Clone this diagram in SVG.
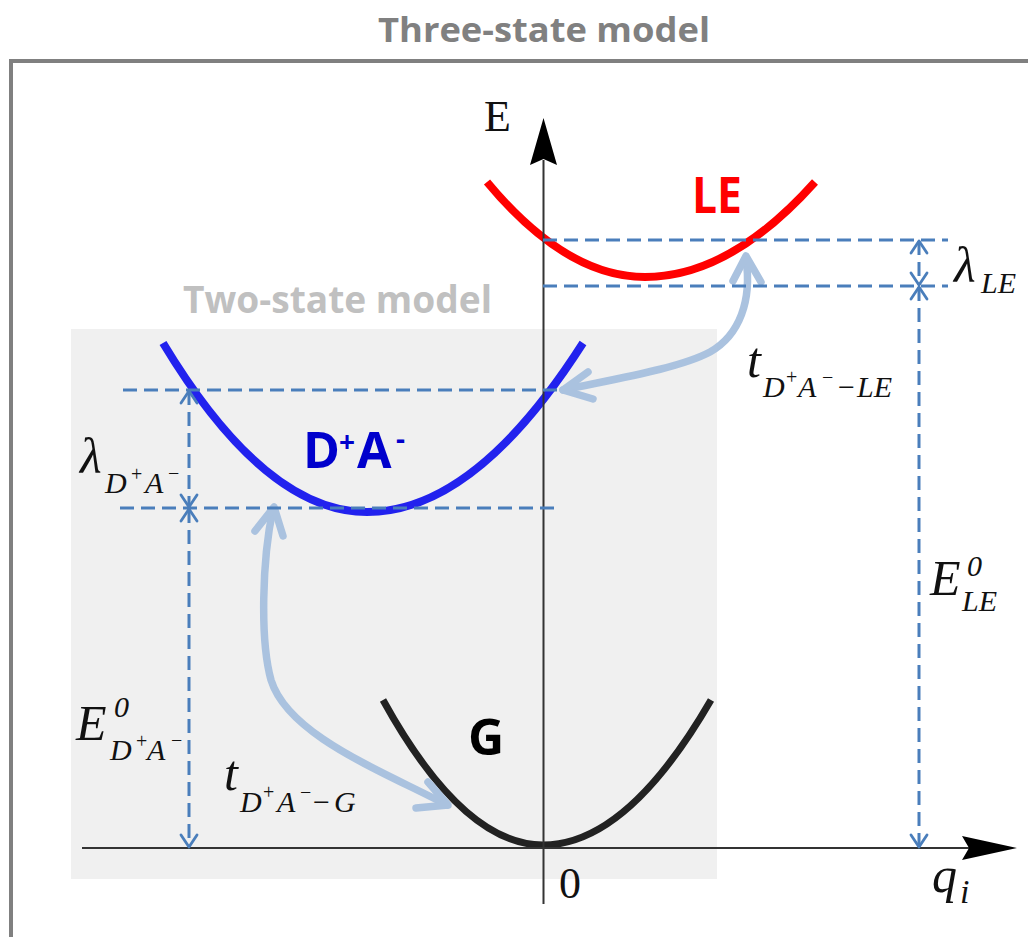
<svg xmlns="http://www.w3.org/2000/svg" width="1028" height="937" viewBox="0 0 1028 937">
  <style>
    .hdr { font-family: "Open Sans", "Liberation Sans", sans-serif; font-weight: 700; }
    .mi { font-family: "Liberation Serif", "DejaVu Serif", serif; font-style: italic; fill: #111; }
    .mr { font-family: "Liberation Serif", "DejaVu Serif", serif; fill: #111; }
    .curve { fill: none; stroke-linecap: butt; }
    .dash { fill: none; stroke: #4a7ebb; stroke-width: 3; stroke-dasharray: 14 7; }
    .lb { fill: none; stroke: #aac2df; stroke-width: 7.5; stroke-linecap: round; stroke-linejoin: round; }
    .axis { fill: none; stroke: #333; stroke-width: 2; }
  </style>
  <defs>
    <marker id="vh" viewBox="-14 -10 16 20" refX="0" refY="0" markerWidth="16" markerHeight="20" markerUnits="userSpaceOnUse" orient="auto-start-reverse">
      <path d="M-12,-8 L0,0 L-12,8" fill="none" stroke="#4a7ebb" stroke-width="2.8" stroke-dasharray="none" stroke-linecap="round" stroke-linejoin="round"/>
    </marker>
  </defs>

  <rect width="1028" height="937" fill="#ffffff"/>

  <g id="frame">
    <path d="M11,945 L11,61 L1035,61" fill="none" stroke="#808080" stroke-width="4"/>
    <text class="hdr" x="544" y="42" font-size="34" fill="#808080" text-anchor="middle" textLength="332" lengthAdjust="spacingAndGlyphs">Three-state model</text>
  </g>

  <g id="two-state-region">
    <rect x="71" y="329" width="646" height="550" fill="#f0f0f0"/>
    <text class="hdr" x="183" y="313" font-size="37" fill="#c0c0c0" textLength="309" lengthAdjust="spacingAndGlyphs">Two-state model</text>
  </g>

  <g id="node-LE">
    <path class="curve" d="M487,182 Q566,277 645,277 Q730,277 815,182" stroke="#ff0000" stroke-width="8"/>
    <text class="hdr" x="692" y="213" font-size="50" fill="#ff0000" textLength="50" lengthAdjust="spacingAndGlyphs">LE</text>
  </g>

  <g id="node-DA">
    <path class="curve" d="M163,343 Q265,512 367,512 Q475,512 583,343" stroke="#2222ee" stroke-width="8"/>
    <text class="hdr" font-size="50" fill="#0000cc"><tspan x="303" y="468">D</tspan><tspan x="339" y="452" font-size="28">+</tspan><tspan x="357" y="468">A</tspan><tspan x="396" y="449" font-size="28">-</tspan></text>
  </g>

  <g id="node-G">
    <path class="curve" d="M383,700 Q463,845 543,845 Q627,845 711,700" stroke="#222222" stroke-width="7"/>
    <text class="hdr" x="468" y="755" font-size="50" fill="#000000">G</text>
  </g>

  <g id="axes">
    <line class="axis" x1="543.5" y1="160" x2="543.5" y2="904"/>
    <path d="M543.5,118 L557,165 L543.5,159 L530,165 Z" fill="#000"/>
    <line class="axis" x1="82" y1="848" x2="970" y2="848"/>
    <path d="M1017,848 L962,836 L969,848 L962,860 Z" fill="#000"/>
    <text class="mr" x="484" y="131" font-size="44">E</text>
    <text class="mr" x="559" y="898" font-size="44">0</text>
    <text class="mi" x="932" y="892" font-size="50">q</text>
    <text class="mi" x="960" y="903" font-size="34">i</text>
  </g>

  <g id="connectors">
    <path class="lb" d="M563,390 C620,378 680,368 710,352 C740,335 752,300 746,259"/>
    <polyline class="lb" points="588,372 563,390 593,399"/>
    <polyline class="lb" points="733,281 746,256 761,282"/>
    <path class="lb" d="M273,509 C262,560 260,640 271,680 C288,735 380,770 447,805"/>
    <polyline class="lb" points="255,531 274,507 283,536"/>
    <polyline class="lb" points="416,808 448,805 428,782"/>

    <line class="dash" x1="543" y1="240" x2="948" y2="240"/>
    <line class="dash" x1="543" y1="286" x2="948" y2="286"/>
    <line class="dash" x1="123" y1="390" x2="561" y2="390"/>
    <line class="dash" x1="120" y1="508" x2="557" y2="508"/>
    <line class="dash" x1="189" y1="391" x2="189" y2="507" marker-start="url(#vh)" marker-end="url(#vh)"/>
    <line class="dash" x1="189" y1="509" x2="189" y2="847" marker-start="url(#vh)" marker-end="url(#vh)"/>
    <line class="dash" x1="919" y1="241" x2="919" y2="285" marker-start="url(#vh)" marker-end="url(#vh)"/>
    <line class="dash" x1="919" y1="287" x2="919" y2="847" marker-start="url(#vh)" marker-end="url(#vh)"/>
  </g>

  <g id="labels">
    <text class="mi" font-size="50"><tspan x="954" y="282">λ</tspan><tspan x="981" y="293" font-size="30">LE</tspan></text>
    <text class="mi" font-size="50"><tspan x="930" y="595">E</tspan><tspan x="967" y="576" font-size="30">0</tspan><tspan x="962" y="611" font-size="30">LE</tspan></text>
    <text class="mi" font-size="50"><tspan x="80" y="473">λ</tspan><tspan x="105" y="493" font-size="30">D</tspan><tspan x="131" y="481" font-size="20" font-style="normal">+</tspan><tspan x="145" y="493" font-size="30">A</tspan><tspan x="168" y="480" font-size="20" font-style="normal">−</tspan></text>
    <text class="mi" font-size="50"><tspan x="76" y="740">E</tspan><tspan x="114" y="717" font-size="30">0</tspan><tspan x="110" y="760" font-size="30">D</tspan><tspan x="136" y="748" font-size="20" font-style="normal">+</tspan><tspan x="147" y="760" font-size="30">A</tspan><tspan x="171" y="747" font-size="20" font-style="normal">−</tspan></text>
    <text class="mi" font-size="50"><tspan x="747" y="377">t</tspan><tspan x="763" y="397" font-size="30">D</tspan><tspan x="786" y="384" font-size="20" font-style="normal">+</tspan><tspan x="798" y="397" font-size="30">A</tspan><tspan x="822" y="384" font-size="20" font-style="normal">−</tspan><tspan x="838" y="397" font-size="30" font-style="normal">−</tspan><tspan x="857" y="397" font-size="30">LE</tspan></text>
    <text class="mi" font-size="50"><tspan x="224" y="790">t</tspan><tspan x="240" y="812" font-size="30">D</tspan><tspan x="263" y="799" font-size="20" font-style="normal">+</tspan><tspan x="277" y="812" font-size="30">A</tspan><tspan x="300" y="799" font-size="20" font-style="normal">−</tspan><tspan x="313" y="812" font-size="30" font-style="normal">−</tspan><tspan x="334" y="812" font-size="30">G</tspan></text>
  </g>
</svg>
